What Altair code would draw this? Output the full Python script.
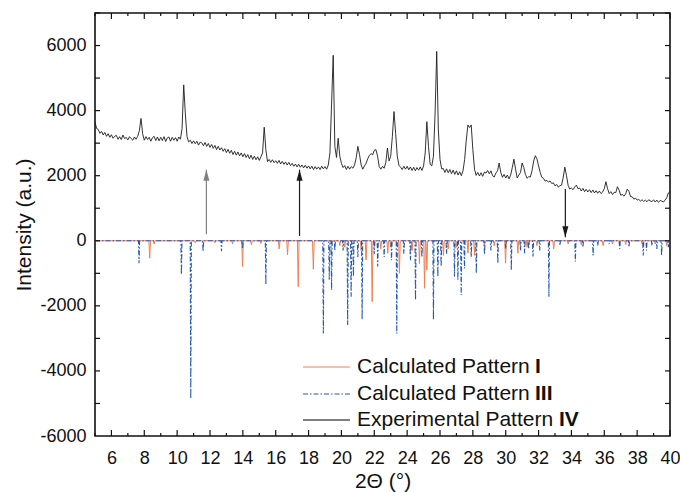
import altair as alt
import pandas as pd

# ---------------- data ----------------
theta_start = 5.0
theta_step = 0.1
# experimental pattern IV, one row per degree (x.0 ... x.9), last value at 40.0
exp_intensity = [
    3640, 3450, 3420, 3300, 3360, 3250, 3330, 3210, 3290, 3180,   # 5
    3260, 3150, 3210, 3240, 3120, 3200, 3110, 3250, 3140, 3180,   # 6
    3100, 3200, 3140, 3090, 3190, 3120, 3210, 3380, 3760, 3290,   # 7
    3090, 3200, 3110, 3180, 3060, 3170, 3210, 3080, 3190, 3070,   # 8
    3180, 3080, 3200, 3050, 3160, 3190, 3060, 3180, 3090, 3170,   # 9
    3060, 3190, 3120, 3450, 4790, 3900, 3200, 3040, 3090, 2990,   # 10
    3070, 2980, 3060, 2940, 3030, 3010, 2920, 3020, 2900, 2990,   # 11
    2870, 2960, 2840, 2930, 2800, 2900, 2790, 2860, 2750, 2830,   # 12
    2710, 2810, 2690, 2780, 2650, 2750, 2630, 2730, 2610, 2700,   # 13
    2580, 2680, 2560, 2650, 2520, 2630, 2500, 2600, 2490, 2580,   # 14
    2470, 2580, 2700, 3490, 2800, 2430, 2500, 2410, 2490, 2400,   # 15
    2460, 2380, 2470, 2360, 2440, 2350, 2420, 2330, 2410, 2310,   # 16
    2380, 2290, 2360, 2270, 2350, 2260, 2330, 2240, 2320, 2230,   # 17
    2300, 2210, 2290, 2190, 2280, 2200, 2270, 2190, 2290, 2210,   # 18
    2280, 2200, 2330, 2700, 4200, 5700, 2900, 2560, 3150, 2600,   # 19
    2380, 2250, 2310, 2190, 2290, 2200, 2280, 2230, 2330, 2550,   # 20
    2900, 2650, 2330, 2200, 2300, 2380, 2520, 2620, 2680, 2640,   # 21
    2780, 2800, 2600, 2280, 2200, 2290, 2230, 2400, 2850, 2450,   # 22
    2600, 3200, 3970, 3300, 2600, 2320, 2260, 2190, 2290, 2200,   # 23
    2290, 2180, 2270, 2160, 2260, 2150, 2250, 2170, 2270, 2160,   # 24
    2300, 2700, 3660, 2900, 2350, 2300, 2600, 3900, 5820, 3400,   # 25
    2500, 2210, 2220, 2100, 2210, 2090, 2190, 2060, 2170, 2040,   # 26
    2150, 2020, 2120, 2000, 2150, 2500, 3100, 3560, 3480, 3560,   # 27
    2800, 2200, 2010, 2100, 1990, 2090, 1980, 2110, 2080, 2160,   # 28
    2060, 2150, 2000, 1960, 2080, 2150, 2390, 2100, 1950, 2040,   # 29
    1930, 2020, 1900, 2020, 2250, 2510, 2200, 1930, 2020, 2100,   # 30
    2390, 2250, 2040, 1920, 1970, 1960, 2150, 2450, 2615, 2520,   # 31
    2300, 2100, 1950, 1920, 1830, 1860, 1800, 1840, 1760, 1780,   # 32
    1690, 1730, 1650, 1690, 1710, 1950, 2260, 2000, 1700, 1590,   # 33
    1620, 1570, 1650, 1710, 1600, 1620, 1530, 1610, 1510, 1580,   # 34
    1500, 1570, 1480, 1560, 1470, 1540, 1460, 1530, 1450, 1500,   # 35
    1600, 1815, 1600, 1450, 1510, 1420, 1490, 1480, 1660, 1560,   # 36
    1400, 1420, 1370, 1440, 1590, 1520, 1360, 1350, 1280, 1310,   # 37
    1250, 1270, 1220, 1260, 1210, 1250, 1200, 1260, 1230, 1200,   # 38
    1260, 1190, 1250, 1180, 1240, 1220, 1190, 1250, 1320, 1470,   # 39
    1520,                                                         # 40
]

# calculated pattern I (peak position, intensity drawn downwards)
calc_I_pos = [8.33, 8.6, 11.1, 12.3, 13.37, 13.98, 14.52, 15.1, 16.21, 16.72,
              17.37, 18.29, 19.9, 20.2, 21.2, 21.50, 21.87, 22.4, 22.82, 23.0,
              23.53, 24.3, 24.75, 25.06, 25.20, 26.21, 26.5, 27.0, 27.70, 28.10,
              28.7, 29.3, 29.99, 30.74, 31.3, 31.9, 32.92, 33.8, 34.6, 35.93,
              36.5, 37.3, 38.3, 39.1, 39.8]
calc_I_int = [-535, -100, -60, -60, -100, -790, -120, -80, -250, -430,
              -1410, -875, -150, -200, -300, -590, -1870, -250, -380, -200,
              -1000, -300, -700, -1460, -900, -450, -250, -200, -380, -450,
              -150, -150, -690, -380, -200, -150, -250, -100, -120, -150,
              -100, -120, -100, -100, -150]

# calculated pattern III
calc_III_pos = [7.68, 10.26, 10.83, 11.58, 12.70, 13.98, 15.40, 18.90, 19.26, 19.40,
                19.6, 20.1, 20.38, 20.59, 20.73, 21.0, 21.26, 22.0, 22.21, 22.6,
                23.05, 23.37, 23.8, 24.2, 24.51, 24.9, 25.60, 25.87, 26.07, 26.4,
                26.88, 27.09, 27.29, 27.49, 27.9, 28.21, 28.71, 29.1, 29.52, 30.0,
                30.34, 30.9, 31.15, 31.4, 31.66, 32.07, 32.63, 33.3, 34.24, 34.7,
                35.32, 35.6, 36.3, 36.94, 37.5, 38.37, 38.57, 38.9, 39.2, 39.49,
                39.9]
calc_III_int = [-690, -1030, -4850, -320, -320, -250, -1340, -2850, -1200, -1510,
                -300, -300, -2590, -1720, -1100, -500, -2420, -400, -790, -500,
                -600, -2850, -400, -600, -1820, -500, -2420, -1100, -790, -400,
                -1100, -1200, -1670, -850, -500, -1000, -420, -300, -690, -250,
                -900, -300, -380, -250, -480, -300, -1720, -150, -640, -200,
                -450, -150, -100, -250, -200, -450, -300, -150, -250, -450,
                -200]

# arrows (position, start, tip)
arrow_pos = [11.78, 17.45, 33.63]
arrow_from = [200, 150, 1590]
arrow_to = [2185, 2185, 105]
arrow_colors = ["#808080", "#1a1a1a", "#1a1a1a"]

legend_plain = ["Calculated Pattern", "Calculated Pattern", "Experimental Pattern"]
legend_bold = ["I", "III", "IV"]

x_label_values = list(range(6, 41, 2))
x_major_ticks = list(range(6, 41, 2))
x_minor_ticks = list(range(5, 40, 2))
y_label_values = list(range(-6000, 6001, 2000))
y_tick_values = list(range(-5000, 7001, 1000))

# ---------------- tables ----------------
exp_df = pd.DataFrame({
    "t": [round(theta_start + i * theta_step, 2) for i in range(len(exp_intensity))],
    "i": exp_intensity,
})


def profile(pos, inten, half):
    pts = [(5.0, 0.0)]
    for p, v in sorted(zip(pos, inten)):
        pts += [(p - half, 0.0), (p, v), (p + half, 0.0)]
    pts.append((40.0, 0.0))
    return pd.DataFrame(pts, columns=["t", "i"])


calcI_df = profile(calc_I_pos, calc_I_int, 0.05)
calcIII_df = profile(calc_III_pos, calc_III_int, 0.035)

arrow_df = pd.DataFrame({
    "t": arrow_pos, "y0": arrow_from, "y1": arrow_to, "c": arrow_colors,
    "shape": ["M0,0L-0.55,2L0.55,2Z" if b > a else "M0,0L-0.55,-2L0.55,-2Z"
              for a, b in zip(arrow_from, arrow_to)],
})

# ---------------- chart ----------------
W, H = 575, 423
FONT = "Liberation Sans"
INK = "#111111"
ORANGE = "#F07F52"
BLUE = "#2458AE"
XS = alt.Scale(domain=[5, 40], nice=False, zero=False)
YS = alt.Scale(domain=[-6000, 7000], nice=False, zero=False)

exp_line = alt.Chart(exp_df).mark_line(color="#1c1c1c", strokeWidth=0.9).encode(
    x=alt.X("t:Q", scale=XS, axis=alt.Axis(
        orient="bottom", values=x_label_values, ticks=False, domain=False, grid=False,
        labelFontSize=18, labelColor=INK, labelPadding=13, labelFlush=False,
        labelOverlap=False, title="2Θ (°)", titleFontSize=21,
        titleFontWeight="normal", titleColor=INK, titlePadding=3)),
    y=alt.Y("i:Q", scale=YS, axis=alt.Axis(
        orient="left", values=y_label_values, ticks=False, domain=False, grid=False,
        labelExpr="'' + datum.value", labelFontSize=18, labelColor=INK,
        labelPadding=9, labelFlush=False, labelOverlap=False,
        title="Intensity (a.u.)", titleFontSize=21, titleFontWeight="normal",
        titleColor=INK, titlePadding=5)),
)

calcI_line = alt.Chart(calcI_df).mark_line(color=ORANGE, strokeWidth=1.0).encode(
    x=alt.X("t:Q", scale=XS, axis=None),
    y=alt.Y("i:Q", scale=YS, axis=None),
)

calcIII_line = alt.Chart(calcIII_df).mark_line(
    color=BLUE, strokeWidth=1.1, strokeDash=[5, 2, 1.5, 2]).encode(
    x=alt.X("t:Q", scale=XS, axis=None),
    y=alt.Y("i:Q", scale=YS, axis=None),
)

arrow_rules = alt.Chart(arrow_df).mark_rule(strokeWidth=1.2).encode(
    x=alt.X("t:Q", scale=XS, axis=None),
    y=alt.Y("y0:Q", scale=YS, axis=None),
    y2="y1:Q",
    color=alt.Color("c:N", scale=None),
)

arrow_heads = alt.Chart(arrow_df).mark_point(filled=True, size=121, opacity=1).encode(
    x=alt.X("t:Q", scale=XS, axis=None),
    y=alt.Y("y1:Q", scale=YS, axis=None),
    shape=alt.Shape("shape:N", scale=None),
    color=alt.Color("c:N", scale=None),
)

layers = [exp_line, calcI_line, calcIII_line, arrow_rules, arrow_heads]

# inward ticks on all four sides of the frame
def x_ticks(values, y_edge, length):
    return alt.Chart(pd.DataFrame({"v": values})).mark_rule(
        color=INK, strokeWidth=1.2).encode(
        x=alt.X("v:Q", scale=XS, axis=None),
        y=alt.value(y_edge), y2=alt.value(y_edge + length))


def y_ticks(values, x_edge, length):
    return alt.Chart(pd.DataFrame({"v": values})).mark_rule(
        color=INK, strokeWidth=1.2).encode(
        y=alt.Y("v:Q", scale=YS, axis=None),
        x=alt.value(x_edge), x2=alt.value(x_edge + length))


layers += [
    x_ticks(x_major_ticks, H, -6), x_ticks(x_minor_ticks, H, -3),
    x_ticks(x_major_ticks, 0, 6), x_ticks(x_minor_ticks, 0, 3),
    y_ticks(y_tick_values, 0, 5), y_ticks(y_tick_values, W, -5),
]

dummy = pd.DataFrame({"a": [0]})
row_y = [354, 381, 407]
bold_x = [440, 440, 464]
line_styles = [dict(color=ORANGE, strokeWidth=1.2),
               dict(color=BLUE, strokeWidth=1.2, strokeDash=[5, 2, 1.5, 2]),
               dict(color="#555555", strokeWidth=1.6)]
for k in range(3):
    layers.append(alt.Chart(dummy).mark_rule(**line_styles[k]).encode(
        x=alt.value(208), x2=alt.value(255), y=alt.value(row_y[k])))
    layers.append(alt.Chart(dummy).mark_text(
        align="left", baseline="middle", fontSize=21, font=FONT, color=INK).encode(
        x=alt.value(262), y=alt.value(row_y[k]), text=alt.value(legend_plain[k])))
    layers.append(alt.Chart(dummy).mark_text(
        align="left", baseline="middle", fontSize=21, font=FONT, fontWeight="bold",
        color=INK).encode(
        x=alt.value(bold_x[k]), y=alt.value(row_y[k]), text=alt.value(legend_bold[k])))

chart = alt.layer(*layers).resolve_axis(x="independent", y="independent").properties(
    width=W, height=H, autosize="none",
    padding={"left": 95, "top": 13, "right": 10, "bottom": 56},
).configure(font=FONT, background="white").configure_view(
    stroke=INK, strokeWidth=1.6)

chart.save("out.html", embed_options={"renderer": "svg", "actions": False})
